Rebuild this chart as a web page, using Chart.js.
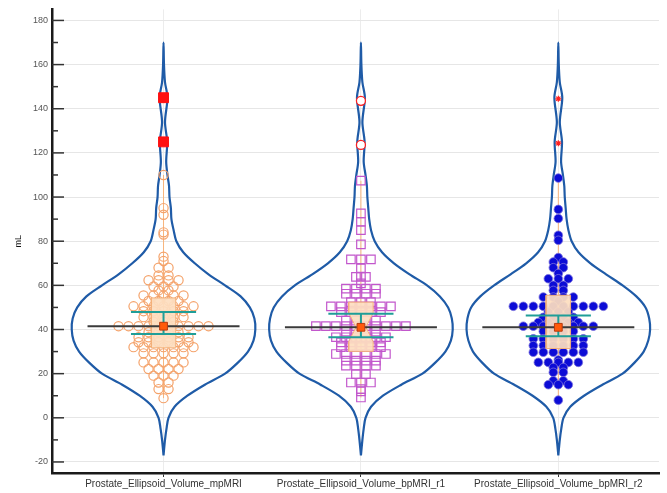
<!DOCTYPE html>
<html>
<head>
<meta charset="utf-8">
<script src="https://cdn.jsdelivr.net/npm/chart.js@4.4.0/dist/chart.umd.min.js"></script>
<style>
  body { margin: 0; background: #fff; }
  #wrap { width: 667px; height: 493px; }
</style>
</head>
<body>
<div id="wrap"><canvas id="violinChart" width="667" height="493"></canvas></div>
<script>
// categories and tick labels
const categories = ["Prostate_Ellipsoid_Volume_mpMRI", "Prostate_Ellipsoid_Volume_bpMRI_r1", "Prostate_Ellipsoid_Volume_bpMRI_r2"];
const yTicks = [-20, 0, 20, 40, 60, 80, 100, 120, 140, 160, 180];
const yMinorTicks = [-10, 10, 30, 50, 70, 90, 110, 130, 150, 170];

const volMpMRI = [110, 95, 92, 84, 83, 73, 71, 68, 68, 64.5, 64.5,
  62.3, 62.3, 62.3, 62.3, 59.5, 59.5, 59.5, 57.7, 57.7,
  55.4, 55.4, 55.4, 55.4, 55.4, 52.9, 52.9, 52.9, 52.9,
  50.5, 50.5, 50.5, 50.5, 50.5, 50.5, 50.5, 48.3, 48.3, 48.3, 48.3, 48.3,
  45.6, 45.6, 45.6, 45.6, 45.6, 43.5, 43.5, 43.5,
  41.5, 41.5, 41.5, 41.5, 41.5, 41.5, 41.5, 41.5, 41.5, 41.5,
  38.8, 38.8, 38.8, 38.8, 36.5, 36.5, 36.5, 36.5, 36.5, 36.5,
  34.2, 34.2, 34.2, 34.2, 34.2, 34.2, 32, 32, 32, 32, 32, 32, 32,
  29.2, 29.2, 29.2, 29.2, 29.2, 25.1, 25.1, 25.1, 25.1, 25.1,
  22.1, 22.1, 22.1, 22.1, 19.1, 19.1, 19.1, 16, 16, 13, 13, 8.9];
const volBpMRI1 = [107.4, 92.6, 88.8, 85, 78.6, 71.8, 71.8, 71.8, 67.7, 64,
  63.8, 63.8, 60.9, 58.5, 58.5, 58.5, 58.5, 56.2, 56.2, 56.2, 56.2,
  52.4, 52.4, 52.4, 50.5, 50.5, 50.5, 50.5, 50.5, 50.5, 50.5,
  47.9, 47.9, 47.9, 47.9, 47.9, 44, 44, 44, 44,
  41.5, 41.5, 41.5, 41.5, 41.5, 41.5, 41.5, 41.5, 41.5, 41.5,
  39, 39, 39, 39, 36.5, 36.5, 36.5, 36.5, 36.5, 36.5,
  34.2, 34.2, 34.2, 34.2, 34.2, 32, 32, 32, 32, 32,
  28.9, 28.9, 28.9, 28.9, 28.9, 28.9, 25.9, 25.9, 25.9, 25.9,
  23.6, 23.6, 23.6, 23.6, 19.8, 19.8, 16, 16, 16, 13, 12, 9.2];
const volBpMRI2 = [108.6, 94.4, 90.3, 82.7, 80.4, 72.6, 70.6, 70.6, 68, 68, 65.4,
  63, 63, 63, 60, 60, 57.7, 57.7, 54.7, 54.7, 54.7, 54.7, 52.9,
  50.5, 50.5, 50.5, 50.5, 50.5, 50.5, 50.5, 50.5, 50.5, 50.5,
  48, 48, 48, 45.5, 45.5, 45.5, 45.5, 43.2, 43.2, 43.2, 43.2, 43.2,
  41.5, 41.5, 41.5, 41.5, 41.5, 41.5, 41.5, 41.5, 39.2, 39.2, 39.2, 39.2,
  35.8, 35.8, 35.8, 35.8, 35.8, 35.8, 32.7, 32.7, 32.7, 32.7, 32.7, 32.7,
  29.7, 29.7, 29.7, 29.7, 29.7, 29.7, 26.2, 25.1, 25.1, 25.1, 25.1, 25.1,
  22.8, 22.8, 20.6, 20.6, 16.8, 16.8, 15, 15, 15, 8];
const outliers1 = [145, 125];
const outliers2 = [143.6, 123.6];
const outliers3 = [144.5, 124.4];

// violin outlines: relative density (1 = widest) at these levels
const violinLevels = [-17, -10, -5, 0, 5, 10, 15, 20, 25, 30, 35, 40, 45, 50, 55, 60, 65,
  70, 75, 80, 85, 90, 95, 100, 105, 110, 116, 125, 134, 145, 152, 160, 170];
const density1 = [0, 0.016, 0.032, 0.054, 0.12, 0.26, 0.45, 0.67, 0.81, 0.92, 0.98, 1, 0.99, 0.94, 0.84, 0.67, 0.49,
  0.34, 0.215, 0.14, 0.11, 0.086, 0.08, 0.065, 0.06, 0.043, 0.029, 0.04, 0.016, 0.043, 0.016, 0.005, 0];
const density2 = [0, 0.016, 0.03, 0.05, 0.11, 0.24, 0.44, 0.67, 0.81, 0.92, 0.98, 1, 0.99, 0.95, 0.86, 0.72, 0.53,
  0.36, 0.23, 0.15, 0.11, 0.09, 0.08, 0.07, 0.065, 0.05, 0.03, 0.04, 0.016, 0.043, 0.016, 0.005, 0];
const density3 = [0, 0.016, 0.032, 0.056, 0.13, 0.28, 0.48, 0.70, 0.83, 0.93, 0.98, 1, 0.99, 0.95, 0.85, 0.70, 0.52,
  0.35, 0.22, 0.145, 0.11, 0.09, 0.08, 0.07, 0.065, 0.05, 0.03, 0.04, 0.016, 0.043, 0.016, 0.005, 0];

// summary statistics
const medians = [41.5, 41, 41];
const means = [41.5, 41, 41];
const q1 = [31.7, 30.1, 31.4];
const q3 = [54.3, 52.4, 55.5];
const notchHalf = [0, 6.5, 0];
const ciLow = [38.0, 36.5, 37.0];
const ciHigh = [47.9, 47.1, 46.4];

const groups = [volMpMRI, volBpMRI1, volBpMRI2];
const outlierSets = [outliers1, outliers2, outliers3];
const densities = [density1, density2, density3];

const VIOLIN_HALF = 0.465;
const BOX_HALF = 0.062;
const NOTCH_HALF = 0.025;
const CI_HALF = 0.165;
const MED_HALF = 0.385;

function violinPath(center, dens) {
  const right = violinLevels.map((y, k) => ({ x: center + dens[k] * VIOLIN_HALF, y }));
  const left = violinLevels.map((y, k) => ({ x: center - dens[k] * VIOLIN_HALF, y })).reverse().slice(1);
  return right.concat(left);
}

function boxPath(c, i) {
  const a = q1[i], b = q3[i], m = medians[i], n = notchHalf[i];
  if (!n) {
    return [{x: c - BOX_HALF, y: a}, {x: c + BOX_HALF, y: a}, {x: c + BOX_HALF, y: b},
            {x: c - BOX_HALF, y: b}, {x: c - BOX_HALF, y: a}];
  }
  return [{x: c - BOX_HALF, y: a}, {x: c + BOX_HALF, y: a}, {x: c + BOX_HALF, y: m - n},
          {x: c + NOTCH_HALF, y: m}, {x: c + BOX_HALF, y: m + n}, {x: c + BOX_HALF, y: b},
          {x: c - BOX_HALF, y: b}, {x: c - BOX_HALF, y: m + n}, {x: c - NOTCH_HALF, y: m},
          {x: c - BOX_HALF, y: m - n}, {x: c - BOX_HALF, y: a}];
}

const dotStyles = [
  { pointStyle: 'circle', pointRadius: 4.6, borderColor: '#f4a26a', backgroundColor: 'rgba(0,0,0,0)', borderWidth: 1.2 },
  { pointStyle: 'rect', pointRadius: 6.0, borderColor: '#c257cc', backgroundColor: 'rgba(0,0,0,0)', borderWidth: 1.2 },
  { pointStyle: 'circle', pointRadius: 4.3, borderColor: '#7a70dc', backgroundColor: '#0c0cd6', borderWidth: 0.8 }
];
const outlierStyles = [
  { pointStyle: 'rect', pointRadius: 7, borderColor: '#ff1010', backgroundColor: '#ff1010', borderWidth: 1 },
  { pointStyle: 'circle', pointRadius: 4.5, borderColor: '#ff2020', backgroundColor: '#ffffff', borderWidth: 1.3 },
  { pointStyle: 'star', pointRadius: 3, borderColor: '#ff2020', backgroundColor: '#ff2020', borderWidth: 1.2 }
];

const datasets = [];
groups.forEach((vals, i) => {
  const c = i + 1;
  datasets.push({ label: 'violin' + c, data: violinPath(c, densities[i]), showLine: true, pointRadius: 0,
    borderColor: '#1f5ba7', borderWidth: 2.2, tension: 0.3, fill: false, order: 10 });
  datasets.push({ label: 'whisker' + c, data: [{x: c, y: Math.min(...vals)}, {x: c, y: Math.max(...vals)}],
    showLine: true, pointRadius: 0, borderColor: '#f7b47c', borderWidth: 1, order: 9 });
  datasets.push(Object.assign({ label: 'dots' + c, data: vals.map(v => ({x: c, y: v})), order: 8, dotRow: true }, dotStyles[i]));
  datasets.push({ label: 'box' + c, data: boxPath(c, i), showLine: true, pointRadius: 0,
    borderColor: '#f3b07a', borderWidth: 1, fill: 'shape', backgroundColor: 'rgba(253, 222, 192, 0.93)', order: 7 });
  datasets.push({ label: 'ci' + c, data: [{x: c - CI_HALF, y: ciLow[i]}, {x: c + CI_HALF, y: ciLow[i]}, {x: c, y: ciLow[i]},
      {x: c, y: ciHigh[i]}, {x: c - CI_HALF, y: ciHigh[i]}, {x: c + CI_HALF, y: ciHigh[i]}],
    showLine: true, pointRadius: 0, borderColor: '#1f9e98', borderWidth: 2, order: 6 });
  datasets.push({ label: 'median' + c, data: [{x: c - MED_HALF, y: medians[i]}, {x: c + MED_HALF, y: medians[i]}],
    showLine: true, pointRadius: 0, borderColor: '#3a3a3a', borderWidth: 2, order: 5 });
  datasets.push(Object.assign({ label: 'outliers' + c, data: outlierSets[i].map(v => ({x: c, y: v})), order: 4 }, outlierStyles[i]));
  datasets.push({ label: 'mean' + c, data: [{x: c, y: means[i]}], pointStyle: 'rect', pointRadius: 5.5,
    backgroundColor: '#ff5a0a', borderColor: '#b83a10', borderWidth: 1, order: 3 });
});

// short inner tick marks on the y axis
const innerTicks = {
  id: 'innerTicks',
  afterDraw(chart) {
    const ctx = chart.ctx, y = chart.scales.y, left = chart.chartArea.left;
    ctx.save();
    ctx.strokeStyle = '#333';
    ctx.lineWidth = 1.5;
    yTicks.forEach(v => { const p = y.getPixelForValue(v); ctx.beginPath(); ctx.moveTo(left, p); ctx.lineTo(left + 12, p); ctx.stroke(); });
    yMinorTicks.forEach(v => { const p = y.getPixelForValue(v); ctx.beginPath(); ctx.moveTo(left, p); ctx.lineTo(left + 6, p); ctx.stroke(); });
    ctx.restore();
  }
};

const chart = new Chart(document.getElementById('violinChart').getContext('2d'), {
  type: 'scatter',
  data: { datasets },
  options: {
    responsive: false,
    animation: false,
    layout: { padding: { top: 7, right: 0, left: 0, bottom: 0 } },
    plugins: { legend: { display: false }, tooltip: { enabled: false } },
    scales: {
      x: {
        type: 'linear', min: 0.435, max: 3.51,
        afterBuildTicks: (scale) => { scale.ticks = [1, 2, 3].map(v => ({ value: v })); },
        afterFit: (scale) => { scale.height = 20; },
        ticks: { callback: (v) => categories[v - 1], color: '#333', font: { family: 'Liberation Sans, Arial', size: 10 },
          maxRotation: 0, autoSkip: false, padding: 1 },
        grid: { color: '#ececec', tickColor: '#333', tickLength: 4 },
        border: { color: '#1a1a1a', width: 2.5 }
      },
      y: {
        min: -25, max: 185,
        afterBuildTicks: (scale) => { scale.ticks = yTicks.map(v => ({ value: v })); },
        afterFit: (scale) => { scale.width = 52; },
        ticks: { color: '#555', font: { family: 'Liberation Sans, Arial', size: 9 }, padding: 4 },
        grid: { color: '#e6e6e6', drawTicks: false },
        border: { color: '#1a1a1a', width: 2.5 },
        title: { display: true, text: 'mL', color: '#111', font: { family: 'Liberation Sans, Arial', size: 9 }, padding: { top: 13, bottom: 0 } }
      }
    }
  },
  plugins: [innerTicks]
});

// dot-plot layout: equal values sit side by side in one centred row
const xs = chart.scales.x;
const pxPerUnit = xs.getPixelForValue(2) - xs.getPixelForValue(1);
const DOT_STEP = 10;
let g = 0;
chart.data.datasets.forEach(ds => {
  if (!ds.dotRow) return;
  const vals = groups[g];
  const counts = {}, seen = {};
  vals.forEach(v => { counts[v] = (counts[v] || 0) + 1; });
  ds.data = vals.map(v => {
    const k = seen[v] = (seen[v] === undefined ? 0 : seen[v] + 1);
    const off = (k - (counts[v] - 1) / 2) * DOT_STEP;
    return { x: g + 1 + off / pxPerUnit, y: v };
  });
  g++;
});
chart.update('none');
</script>
</body>
</html>
